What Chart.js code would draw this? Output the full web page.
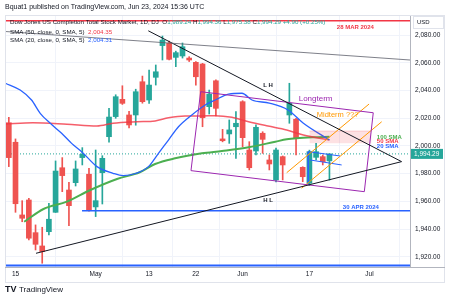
<!DOCTYPE html>
<html>
<head>
<meta charset="utf-8">
<script src="https://cdn.jsdelivr.net/npm/chart.js@4.4.1/dist/chart.umd.min.js"></script>
<style>
  html, body { margin: 0; padding: 0; background: #fff; }
</style>
</head>
<body>
<canvas id="modelChart" width="450" height="300"></canvas>
<script>
// trading days, index -1 = Apr 12, 0 = Apr 15 ... 47 = Jun 21
var firstIdx = -1;
var days = ["Apr 12","Apr 15","Apr 16","Apr 17","Apr 18","Apr 19","Apr 22","Apr 23","Apr 24","Apr 25","Apr 26","Apr 29","Apr 30",
  "May 1","May 2","May 3","May 6","May 7","May 8","May 9","May 10","May 13","May 14","May 15","May 16","May 17","May 20","May 21",
  "May 22","May 23","May 24","May 28","May 29","May 30","May 31","Jun 3","Jun 4","Jun 5","Jun 6","Jun 7","Jun 10","Jun 11",
  "Jun 12","Jun 13","Jun 14","Jun 17","Jun 18","Jun 20","Jun 21"];
var openV  = [2016.8,2002.7,1950.2,1961.0,1937.4,1927.8,1938.1,1952.1,1984.3,1968.2,1973.5,1991.6,1979.6,
  1956.0,1980.7,2006.7,2021.2,2033.7,2022.4,2022.4,2046.4,2033.2,2049.6,2072.5,2074.2,2064.0,2065.0,2063.5,
  2060.4,2059.2,2028.4,2047.1,2005.1,2008.7,2013.9,2032.0,1997.1,1996.4,2009.2,1989.9,1975.5,1992.3,
  2022.4,2019.3,1984.6,1973.1,1991.8,1992.3,1989.24];
var highV  = [2020.7,2005.1,1960.5,1962.2,1943.0,1941.3,1958.6,1989.2,1991.6,1973.8,1989.2,1998.8,1983.9,
  1997.1,1993.0,2027.2,2037.0,2043.5,2025.0,2041.0,2050.5,2054.9,2058.5,2079.4,2075.8,2068.5,2074.4,2064.5,
  2061.0,2059.7,2040.4,2047.7,2012.0,2018.8,2024.8,2032.7,2003.1,2015.2,2010.3,1993.5,1998.5,1992.8,
  2045.3,2020.0,1985.0,1997.0,2001.9,1993.5,1994.36];
var lowV   = [1985.1,1952.1,1945.3,1932.1,1924.9,1915.3,1935.7,1952.0,1967.0,1942.5,1971.1,1986.3,1953.0,
  1949.0,1958.1,2002.7,2020.0,2030.0,2013.0,2015.0,2030.9,2030.8,2044.0,2062.1,2062.1,2057.3,2063.5,2061.0,
  2044.0,2013.9,2023.1,2021.7,2003.0,2001.9,1991.1,1999.5,1982.7,1993.5,1994.7,1982.7,1974.0,1975.5,
  2016.4,1993.5,1974.2,1971.5,1989.9,1986.3,1975.38];
var closeV = [1991.6,1958.3,1947.8,1933.4,1929.0,1923.7,1947.1,1981.9,1978.6,1956.9,1983.4,1994.0,1953.3,
  1960.5,1991.1,2020.9,2035.6,2030.8,2015.2,2039.2,2032.0,2044.0,2053.6,2076.5,2062.6,2067.4,2071.7,2062.1,
  2050.0,2020.4,2037.5,2027.2,2003.8,2011.6,2016.4,2006.0,1984.3,2013.5,2004.8,1987.0,1997.1,1986.3,
  2030.8,2005.6,1977.8,1995.9,1995.9,1988.7,1994.29];

// moving averages (x = day index)
var sma20X = [-1.5,0.7,2.4,3.7,5.2,6.9,8.4,9.9,12.2,14.6,16.1,18.1,19.9,21.4,22.9,24.4,26.4,28.4,29.9,31.9,33.9,35.4,38.0,40.8,43.1,47.0];
var sma20Y = [2045.3,2040.4,2033.2,2023.6,2016.4,2009.2,2001.9,1995.9,1985.1,1980.3,1978.6,1980.3,1985.1,1994.7,2004.3,2013.9,2022.4,2029.6,2033.2,2037.5,2038.1,2033.2,2031.0,2026.0,2016.4,2004.31];
var sma50X = [-1.5,2.6,7.7,12.2,14.6,18.2,20.9,22.9,25.4,27.9,29.9,32.4,34.9,37.8,40.6,43.1,47.0];
var sma50Y = [2015.9,2016.8,2015.7,2014.4,2016.4,2017.5,2018.1,2020.4,2021.7,2021.7,2021.9,2020.7,2017.5,2014.4,2011.6,2007.9,2004.35];
var sma100X = [1.3,4.2,7.7,11.2,15.2,18.6,20.9,23.9,27.9,30.9,34.9,38.9,40.6,42.1,44.6,47.0];
var sma100Y = [1945.3,1954.5,1959.8,1968.2,1976.2,1981.0,1987.0,1991.1,1994.7,1996.4,1999.1,2003.1,2004.8,2005.6,2006.3,2006.7];

var lastPrice = 1994.29;
var mar28Level = 2090.5;
var apr30Level = 1953.3;
var bottomLevel = 1913.6;

var xTickIdx = [0, 12, 20, 27, 34, 44, 53];
var xTickLabels = ["15", "May", "13", "22", "Jun", "17", "Jul"];
var yTicks = [1920, 1940, 1960, 1980, 2000, 2020, 2040, 2060, 2080];
var xMin = -1.572, xMax = 59.06, yMin = 1912.6, yMax = 2094.6;

// drawn tools (day index, price)
var greyLine = [[-1.572, 2082.7], [59.06, 2062.1]];
var lhLine = [[19.88, 2083.2], [57.8, 1988.7]];
var hlLine = [[3.07, 1922.5], [57.8, 1988.7]];
var longBox = [[27.72, 2039.2], [53.56, 2024.0], [52.22, 1967.0], [26.27, 1982.2], [27.72, 2039.2]];
var midA = [[40.6, 1980.7], [52.93, 2030.3]];
var midB = [[42.84, 1969.5], [54.82, 2017.5]];
var flagTop = [[43.83, 1995.9], [48.58, 1992.8]];
var flagBot = [[44.09, 1989.9], [48.83, 1986.3]];
var flagSide = [[43.83, 1995.9], [43.83, 1973.0]];
var zoneX = [44.0, 53.3];
var zoneY = [2001.9, 2010.8];

var noteText = ["L H", "H L", "Longterm", "Midterm ???", "100 SMA", "50 SMA", "20 SMA", "28 MAR 2024", "30 APR 2024"];
var noteX = [37.8, 37.8, 42.4, 45.1, 54.1, 54.1, 54.1, 48.1, 49.0];
var noteY = [2044.0, 1960.5, 2034.4, 2022.4, 2006.5, 2003.1, 1999.5, 2085.4, 1955.6];

var UP = "#26a69a", DOWN = "#ef5350";
var FONT = "'Liberation Sans', Arial, sans-serif";

function pts(a) { return a.map(function (p) { return { x: p[0], y: p[1] }; }); }
function series(xs, ys) { return xs.map(function (x, i) { return { x: x, y: ys[i] }; }); }
function seg(data, color, width, order, extra) {
  var d = { type: "line", data: data, borderColor: color, borderWidth: width, pointRadius: 0, tension: 0, fill: false, order: order };
  for (var k in extra) d[k] = extra[k];
  return d;
}

var candleColor = openV.map(function (o, i) { return closeV[i] >= o ? UP : DOWN; });
var bodies = openV.map(function (o, i) { return { x: i + firstIdx, y: [o, closeV[i]] }; });
var wicks = lowV.map(function (l, i) { return { x: i + firstIdx, y: [l, highV[i]] }; });

function T(ctx, s, x, y, color, font, align) {
  ctx.fillStyle = color;
  ctx.font = font;
  ctx.textAlign = align || "left";
  ctx.textBaseline = "middle";
  ctx.fillText(s, x, y);
  return ctx.measureText(s).width;
}

var notesPlugin = {
  id: "notes",
  afterDatasetsDraw: function (chart) {
    var ctx = chart.ctx, xs = chart.scales.x, ys = chart.scales.y;
    var styles = [
      ["#131722", "bold 6px " + FONT, "center"],
      ["#131722", "bold 6px " + FONT, "center"],
      ["#9c27b0", "8px " + FONT, "left"],
      ["#ff9800", "7.5px " + FONT, "left"],
      ["#4caf50", "bold 6px " + FONT, "left"],
      ["#f23645", "bold 6px " + FONT, "left"],
      ["#2962ff", "bold 6px " + FONT, "left"],
      ["#f23645", "bold 6px " + FONT, "left"],
      ["#2962ff", "bold 6px " + FONT, "left"]
    ];
    ctx.save();
    noteText.forEach(function (s, i) {
      T(ctx, s, xs.getPixelForValue(noteX[i]), ys.getPixelForValue(noteY[i]), styles[i][0], styles[i][1], styles[i][2]);
    });
    ctx.restore();
  },
  afterDraw: function (chart) {
    var ctx = chart.ctx, ys = chart.scales.y, a = chart.chartArea;
    ctx.save();
    // frame
    ctx.strokeStyle = "#e0e3eb";
    ctx.lineWidth = 1;
    ctx.strokeRect(5.5, 15.5, 439, 267);
    ctx.strokeStyle = "#b2b5be";
    ctx.beginPath();
    ctx.moveTo(a.left, a.bottom + 0.5); ctx.lineTo(445, a.bottom + 0.5);
    ctx.stroke();

    T(ctx, "Bquat1 published on TradingView.com, Jun 23, 2024 15:36 UTC", 5, 7, "#131722", "7px " + FONT);

    var f = "6.2px " + FONT, x = 10, y = 22.5;
    x += T(ctx, "Dow Jones US Completion Total Stock Market, 1D, DJ  ", x, y, "#131722", f);
    var ohlc = [["O", "1,989.24"], ["H", "1,994.36"], ["L", "1,975.38"], ["C", "1,994.29"]];
    ohlc.forEach(function (p) {
      x += T(ctx, p[0], x, y, "#131722", f);
      x += T(ctx, p[1] + " ", x, y, UP, f);
    });
    T(ctx, "+4.90 (+0.25%)", x, y, UP, f);
    x = 10 + T(ctx, "SMA (50, close, 0, SMA, 5)  ", 10, 32.5, "#131722", f);
    T(ctx, "2,004.35", x, 32.5, "#f23645", f);
    x = 10 + T(ctx, "SMA (20, close, 0, SMA, 5)  ", 10, 40.5, "#131722", f);
    T(ctx, "2,004.31", x, 40.5, "#2962ff", f);

    // USD box
    ctx.fillStyle = "#fff";
    ctx.fillRect(413, 16, 30, 12);
    ctx.strokeStyle = "#e0e3eb";
    ctx.strokeRect(413.5, 16.5, 30, 12);
    T(ctx, "USD", 417, 22.5, "#131722", "6px " + FONT);

    // last price label
    var py = ys.getPixelForValue(lastPrice);
    ctx.fillStyle = UP;
    ctx.fillRect(411, py - 5, 32, 10);
    T(ctx, "1,994.29", 414, py, "#fff", "6.5px " + FONT);

    // logo
    T(ctx, "TV", 5, 290, "#131722", "bold 9px " + FONT);
    T(ctx, "TradingView", 19, 290, "#131722", "8px " + FONT);
    ctx.restore();
  }
};

var ctx = document.getElementById("modelChart");
var myChart = new Chart(ctx, {
  type: "line",
  data: {
    datasets: [
      seg([{ x: xMin, y: lastPrice }, { x: xMax, y: lastPrice }], UP, 1, 12, { borderDash: [1, 2] }),
      { type: "bar", data: wicks, backgroundColor: candleColor, barThickness: 1, grouped: false, order: 11 },
      { type: "bar", data: bodies, backgroundColor: candleColor, barThickness: 5, minBarLength: 1, grouped: false, order: 10 },
      seg(series(sma100X, sma100Y), "#4caf50", 2, 7, { cubicInterpolationMode: "monotone" }),
      seg(series(sma50X, sma50Y), "rgba(242,54,69,0.8)", 1.5, 6, { cubicInterpolationMode: "monotone" }),
      seg(series(sma20X, sma20Y), "#2962ff", 1.3, 5, { cubicInterpolationMode: "monotone" }),
      seg([{ x: zoneX[0], y: zoneY[1] }, { x: zoneX[1], y: zoneY[1] }], "rgba(242,54,69,0.2)", 1, 4,
        { fill: { value: zoneY[0] }, backgroundColor: "rgba(242,54,69,0.15)" }),
      seg([{ x: xMin, y: mar28Level }, { x: xMax, y: mar28Level }], "#f23645", 1.5, 3),
      seg([{ x: 9.96, y: apr30Level }, { x: xMax, y: apr30Level }], "#2962ff", 1.5, 3),
      seg([{ x: xMin, y: bottomLevel }, { x: xMax, y: bottomLevel }], "#2962ff", 2, 3),
      seg(pts(greyLine), "#5d606b", 0.8, 2),
      seg(pts(lhLine), "#131722", 1, 2),
      seg(pts(hlLine), "#131722", 1, 2),
      seg(pts(longBox), "#9c27b0", 1, 2),
      seg(pts(midA), "#ff9800", 1, 2),
      seg(pts(midB), "#ff9800", 1, 2),
      seg(pts(flagTop), "#2962ff", 1, 2),
      seg(pts(flagBot), "#2962ff", 1, 2),
      seg(pts(flagSide), "#2962ff", 1, 2)
    ]
  },
  options: {
    responsive: false,
    animation: false,
    devicePixelRatio: 1,
    layout: { padding: { left: 5, right: 5, top: 15, bottom: 18 } },
    plugins: { legend: { display: false }, tooltip: { enabled: false } },
    scales: {
      x: {
        type: "linear", min: xMin, max: xMax, offset: false,
        afterBuildTicks: function (s) { s.ticks = xTickIdx.map(function (v) { return { value: v }; }); },
        afterFit: function (s) { s.height = 15; },
        ticks: {
          autoSkip: false, maxRotation: 0, padding: 3, color: "#131722",
          font: { family: FONT, size: 6.5 },
          callback: function (v) { return xTickLabels[xTickIdx.indexOf(v)]; }
        },
        grid: { color: "#f0f3fa", drawTicks: false },
        border: { display: false }
      },
      y: {
        type: "linear", position: "right", min: yMin, max: yMax,
        afterBuildTicks: function (s) { s.ticks = yTicks.map(function (v) { return { value: v }; }); },
        afterFit: function (s) { s.width = 35; },
        ticks: {
          padding: 5, color: "#131722",
          font: { family: FONT, size: 6.5 },
          callback: function (v) { return v.toLocaleString("en-US", { minimumFractionDigits: 2, maximumFractionDigits: 2 }); }
        },
        grid: { color: "#f0f3fa", drawTicks: false },
        border: { color: "#b2b5be" }
      }
    }
  },
  plugins: [notesPlugin]
});
</script>
</body>
</html>
